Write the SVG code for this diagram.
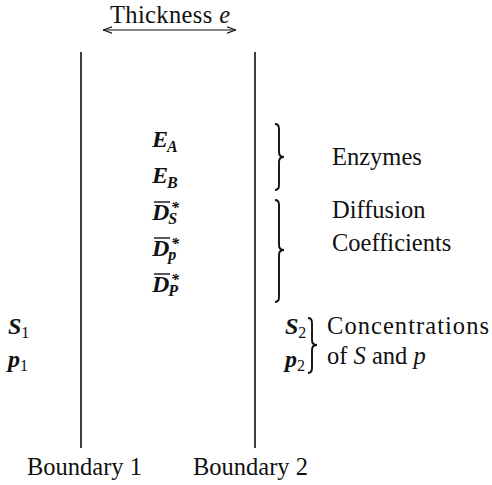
<svg xmlns="http://www.w3.org/2000/svg" width="492" height="485" viewBox="0 0 492 485">
<defs>
<style>
text{font-family:"Liberation Serif","Times New Roman",serif;fill:#111}
.t{font-size:24.5px}
.m{font-size:24px;font-style:italic;font-weight:bold}
.sub{font-size:16px}
.up{font-style:normal;font-weight:normal}
.ln{stroke:#111;stroke-width:1.6;fill:none}
.bar{stroke:#111;stroke-width:1.4;fill:none}
.br{stroke:#111;stroke-width:1.9;fill:none}
</style>
<marker id="ah" viewBox="0 0 10 10" refX="10" refY="5" markerWidth="9" markerHeight="9" orient="auto-start-reverse" markerUnits="userSpaceOnUse">
<path d="M0,1.5 L10,5 L0,8.5" fill="none" stroke="#111" stroke-width="1.2"/>
</marker>
</defs>
<rect width="492" height="485" fill="#fff"/>
<g id="connectors">
<line x1="103" y1="30" x2="236" y2="30" stroke="#111" stroke-width="1.1" marker-start="url(#ah)" marker-end="url(#ah)"/>
</g>
<g id="thickness"><text class="t" x="110" y="23" textLength="120" lengthAdjust="spacing">Thickness <tspan font-style="italic">e</tspan></text></g>
<g id="boundary1">
<line class="ln" x1="81" y1="52" x2="81" y2="448"/>
<text class="t" x="27" y="475">Boundary 1</text>
</g>
<g id="boundary2">
<line class="ln" x1="255" y1="52" x2="255" y2="448"/>
<text class="t" x="193" y="475">Boundary 2</text>
</g>
<g id="EA"><text class="m" x="152" y="147">E<tspan class="sub" dx="-1" dy="5">A</tspan></text></g>
<g id="EB"><text class="m" x="152" y="183">E<tspan class="sub" dx="-1" dy="5">B</tspan></text></g>
<g id="DS"><line class="bar" x1="154" y1="202" x2="170" y2="202"/><text class="m" x="152" y="220">D<tspan class="sub" dx="-1" dy="4">S</tspan></text><text class="m sub" x="171" y="213">*</text></g>
<g id="Dp"><line class="bar" x1="154" y1="238" x2="170" y2="238"/><text class="m" x="152" y="256">D<tspan class="sub" dx="-1" dy="4">p</tspan></text><text class="m sub" x="171" y="249">*</text></g>
<g id="DP"><line class="bar" x1="154" y1="274" x2="170" y2="274"/><text class="m" x="152" y="292">D<tspan class="sub" dx="-1" dy="4">P</tspan></text><text class="m sub" x="171" y="285">*</text></g>
<g id="enzymes">
<path class="br" d="M275,124 Q279,124 279,129 L279,152 Q279,157 284,157 Q279,157 279,162 L279,185 Q279,190 275,190"/>
<text class="t" x="332" y="165">Enzymes</text>
</g>
<g id="diffusion">
<path class="br" d="M275,200 Q279,200 279,205 L279,245 Q279,250 284,250 Q279,250 279,255 L279,297 Q279,302 275,302"/>
<text class="t" x="332" y="218">Diffusion</text>
<text class="t" x="332" y="251">Coefficients</text>
</g>
<g id="S1"><text class="m" x="8" y="334">S<tspan class="sub up" dy="4">1</tspan></text></g>
<g id="p1"><text class="m" x="8" y="367">p<tspan class="sub up" dy="4">1</tspan></text></g>
<g id="S2"><text class="m" x="285" y="334">S<tspan class="sub up" dy="4">2</tspan></text></g>
<g id="p2"><text class="m" x="285" y="367">p<tspan class="sub up" dy="4">2</tspan></text></g>
<g id="concentrations">
<path class="br" d="M308,318 Q312,318 312,323 L312,340 Q312,345 317,345 Q312,345 312,350 L312,368 Q312,373 308,373"/>
<text class="t" x="327" y="334" textLength="162" lengthAdjust="spacing">Concentrations</text>
<text class="t" x="327" y="364">of <tspan font-style="italic">S</tspan> and <tspan font-style="italic">p</tspan></text>
</g>
</svg>
